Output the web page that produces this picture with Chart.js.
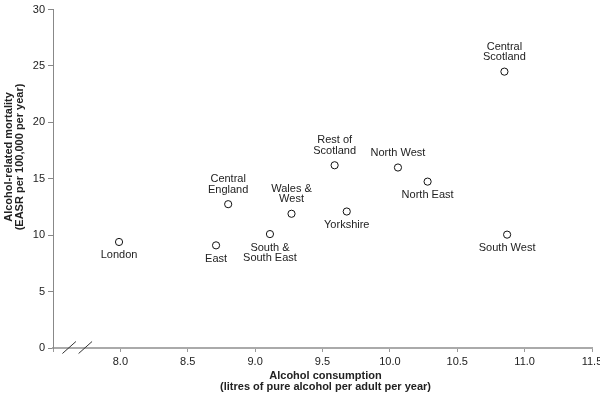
<!DOCTYPE html>
<html>
<head>
<meta charset="utf-8">
<script src="https://cdn.jsdelivr.net/npm/chart.js@4"></script>
<style>
  html, body { margin: 0; padding: 0; background: #fff; }
  #wrap { width: 600px; height: 394px; position: relative; }
</style>
</head>
<body>
<div id="wrap"><canvas id="grafico"></canvas></div>
<script>
// Dados
const regioes = ["London", "East", "Central\nEngland", "South &\nSouth East", "Wales &\nWest",
  "Rest of\nScotland", "Yorkshire", "North West", "North East", "Central\nScotland", "South West"];
const consumo = [7.99, 8.71, 8.80, 9.11, 9.27, 9.59, 9.68, 10.06, 10.28, 10.85, 10.87];
const mortalidade = [9.4, 9.1, 12.75, 10.1, 11.9, 16.2, 12.1, 16.0, 14.75, 24.5, 10.05];
const ticksX = [8.0, 8.5, 9.0, 9.5, 10.0, 10.5, 11.0, 11.5];
const ticksY = [0, 5, 10, 15, 20, 25, 30];

// posição do rótulo (acima / abaixo do ponto)
const posRotulo = ["below", "below", "above", "below", "above",
  "above", "below", "above", "below", "above", "below"];

const fonte = "'Liberation Sans', Arial, sans-serif";
const corTexto = "#222";

// rótulos dos pontos
const rotulosPlugin = {
  id: "rotulos",
  afterDatasetsDraw(chart) {
    const ctx = chart.ctx;
    const meta = chart.getDatasetMeta(0);
    ctx.save();
    ctx.font = "11px " + fonte;
    ctx.fillStyle = corTexto;
    ctx.textAlign = "center";
    ctx.textBaseline = "middle";
    meta.data.forEach((pt, i) => {
      const linhas = regioes[i].split("\n");
      const lh = 10.5;
      linhas.forEach((l, k) => {
        let y;
        if (posRotulo[i] === "above") {
          y = pt.y - 14.5 - (linhas.length - 1 - k) * lh;
        } else {
          y = pt.y + 13.5 + k * lh;
        }
        ctx.fillText(l, pt.x, y);
      });
    });
    ctx.restore();
  }
};

// títulos dos eixos e quebra do eixo
const eixosPlugin = {
  id: "eixos",
  afterDraw(chart) {
    const ctx = chart.ctx;
    const xs = chart.scales.x;
    const ys = chart.scales.y;
    ctx.save();
    ctx.fillStyle = corTexto;
    ctx.font = "bold 11px " + fonte;
    ctx.textAlign = "center";
    ctx.textBaseline = "middle";
    const cx = (chart.chartArea.left + chart.chartArea.right) / 2 + 3;
    ctx.fillText("Alcohol consumption", cx, ys.bottom + 28);
    ctx.fillText("(litres of pure alcohol per adult per year)", cx, ys.bottom + 39);

    ctx.translate(9, 157);
    ctx.rotate(-Math.PI / 2);
    ctx.fillText("Alcohol-related mortality", 0, 0);
    ctx.fillText("(EASR per 100,000 per year)", 0, 11);
    ctx.restore();

    // quebra //
    ctx.save();
    ctx.strokeStyle = "#333";
    ctx.lineWidth = 1;
    const y0 = ys.getPixelForValue(0);
    [[7.57, 7.67], [7.69, 7.79]].forEach(([a, b]) => {
      ctx.beginPath();
      ctx.moveTo(xs.getPixelForValue(a), y0 + 5.5);
      ctx.lineTo(xs.getPixelForValue(b), y0 - 6.5);
      ctx.stroke();
    });
    ctx.restore();
  }
};

const ctx = document.getElementById("grafico").getContext("2d");
new Chart(ctx, {
  type: "scatter",
  data: {
    datasets: [{
      label: "Regiões",
      data: consumo.map((x, i) => ({ x, y: mortalidade[i] })),
      pointStyle: "circle",
      pointRadius: 3.6,
      pointBackgroundColor: "#fff",
      pointBorderColor: "#111",
      pointBorderWidth: 1
    }]
  },
  options: {
    responsive: true,
    maintainAspectRatio: false,
    animation: false,
    events: [],
    layout: { padding: { top: 4, right: 0, left: 0, bottom: 0 } },
    plugins: {
      legend: { display: false },
      tooltip: { enabled: false }
    },
    scales: {
      x: {
        type: "linear",
        min: 7.5,
        max: 11.5,
        afterBuildTicks: (s) => { s.ticks = [7.5, ...ticksX].map(v => ({ value: v })); },
        afterFit: (s) => { s.height = 46; s.paddingRight = 8; s.paddingLeft = 0; },
        ticks: {
          callback: (v) => v === 7.5 ? "" : v.toFixed(1),
          color: corTexto,
          font: { family: fonte, size: 11 },
          padding: 3,
          maxRotation: 0
        },
        grid: { drawOnChartArea: false, tickLength: 4, color: "#999" },
        border: { color: "#aaa", width: 2 }
      },
      y: {
        type: "linear",
        min: 0,
        max: 30,
        afterBuildTicks: (s) => { s.ticks = ticksY.map(v => ({ value: v })); },
        afterFit: (s) => { s.width = 53; },
        ticks: {
          color: corTexto,
          font: { family: fonte, size: 11 },
          padding: 3
        },
        grid: { drawOnChartArea: false, tickLength: 5, color: "#888" },
        border: { color: "#888", width: 1 }
      }
    }
  },
  plugins: [rotulosPlugin, eixosPlugin]
});
</script>
</body>
</html>
